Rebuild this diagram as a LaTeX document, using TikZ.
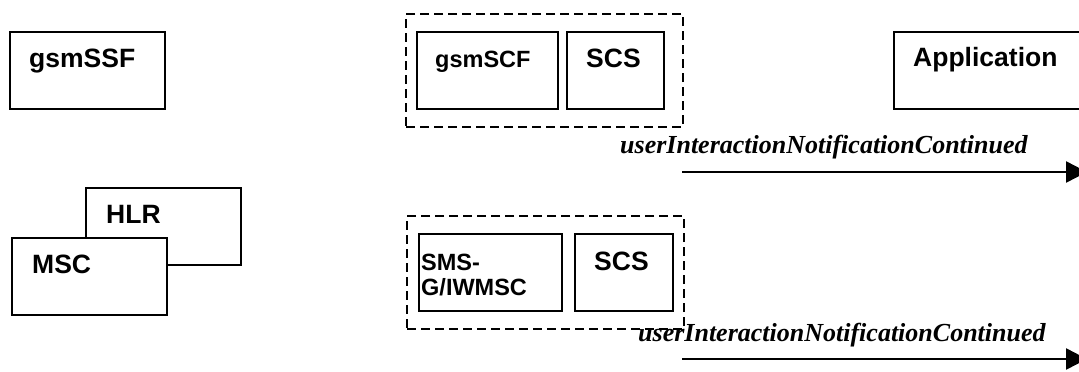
\documentclass[tikz,border=0pt]{standalone}
\usepackage{fontspec}
\setmainfont{Liberation Serif}
\newfontfamily\arialfont{Liberation Sans}
\usetikzlibrary{arrows.meta}
\tikzset{
  ent/.style={draw, line width=2bp, fill=white, inner sep=0pt, anchor=north west},
  lab/.style={anchor=base west, inner sep=0pt, font=\arialfont\bfseries\fontsize{26.5bp}{25bp}\selectfont},
  labsm/.style={anchor=base west, inner sep=0pt, font=\arialfont\bfseries\fontsize{23.5bp}{25bp}\selectfont},
  grp/.style={draw, line width=2bp, dash pattern=on 9bp off 5bp, inner sep=0pt, anchor=north west},
  msg/.style={line width=2.5bp, -{Triangle[length=21bp, width=21bp]}},
  msglab/.style={anchor=base west, inner sep=0pt, font=\bfseries\itshape\fontsize{26bp}{30bp}\selectfont},
}
\begin{document}
\begin{tikzpicture}[x=1bp, y=-1bp]
\useasboundingbox (0,0) rectangle (1079,371);
\clip (0,0) rectangle (1079,371);
% left column
\node[ent, minimum width=155bp, minimum height=77bp,
  label={[lab, xshift=20bp, yshift=-36bp]north west:gsmSSF}] (gsmssf) at (9,31) {};
\node[ent, minimum width=155bp, minimum height=77bp,
  label={[lab, xshift=21bp, yshift=-36bp]north west:HLR}] (hlr) at (85,187) {};
\node[ent, minimum width=155bp, minimum height=77bp,
  label={[lab, xshift=21bp, yshift=-36bp]north west:MSC}] (msc) at (11,237) {};
% upper group
\node[grp, minimum width=277bp, minimum height=113bp] (grp1) at (405,13) {};
\node[ent, minimum width=141bp, minimum height=77bp,
  label={[labsm, xshift=19bp, yshift=-36bp]north west:gsmSCF}] (gsmscf) at (416,31) {};
\node[ent, minimum width=97bp, minimum height=77bp,
  label={[lab, xshift=20bp, yshift=-36bp]north west:SCS}] (scs1) at (566,31) {};
% lower group
\node[grp, minimum width=277bp, minimum height=113bp] (grp2) at (406,215) {};
\node[ent, minimum width=143bp, minimum height=77bp,
  label={[labsm, xshift=3bp, yshift=-37bp]north west:SMS-},
  label={[labsm, xshift=3bp, yshift=-62bp]north west:G/IWMSC}] (smsg) at (418,233) {};
\node[ent, minimum width=98bp, minimum height=77bp,
  label={[lab, xshift=20bp, yshift=-37bp]north west:SCS}] (scs2) at (574,233) {};
% application
\node[ent, minimum width=220bp, minimum height=77bp,
  label={[lab, xshift=20bp, yshift=-35bp]north west:Application}] (app) at (893,31) {};
% messages
\coordinate (m1s) at (682,172);
\coordinate (m1e) at (1087,172);
\draw[msg] (m1s) -- (m1e);
\node[msglab] (m1l) at (620,153) {userInteractionNotificationContinued};
\coordinate (m2s) at (682,359);
\coordinate (m2e) at (1087,359);
\draw[msg] (m2s) -- (m2e);
\node[msglab] (m2l) at (638,341) {userInteractionNotificationContinued};
\end{tikzpicture}
\end{document}
